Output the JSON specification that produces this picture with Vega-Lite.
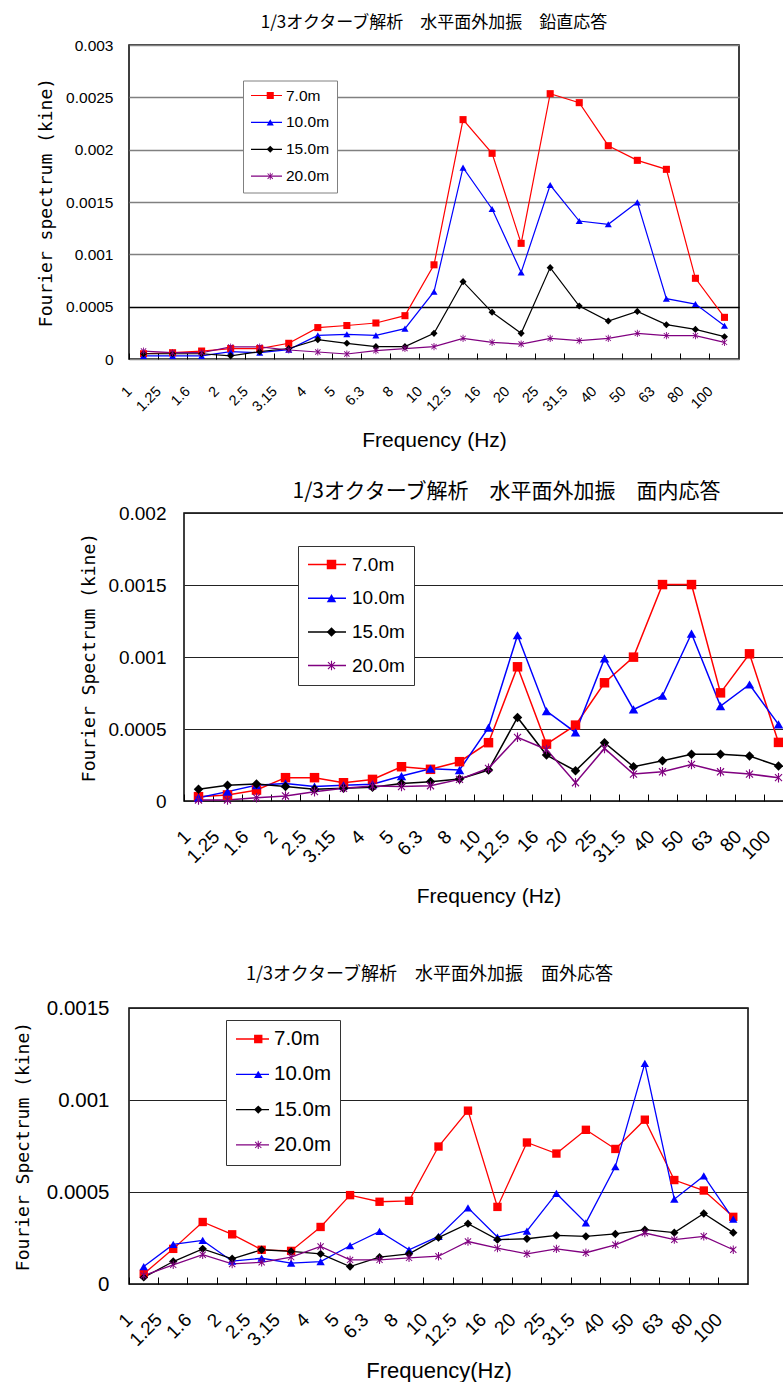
{
"$schema": "https://vega.github.io/schema/vega-lite/v6.json",
"background": "white",
"padding": {"left": 0, "top": 13, "right": 0, "bottom": 0},
"autosize": {"type": "pad"},
"spacing": 0,
"resolve": {"scale": {"stroke": "independent", "color": "independent", "shape": "independent", "fill": "independent"}, "legend": {"stroke": "independent", "color": "independent", "shape": "independent", "fill": "independent"}},
"config": {"view": {"stroke": "black", "strokeWidth": 1.5}, "font": "Liberation Sans"},
"datasets": {
"vert": [
{"f":"1","s":"7.0m","v":0.00005},{"f":"1.25","s":"7.0m","v":0.00006},{"f":"1.6","s":"7.0m","v":0.000076},{"f":"2","s":"7.0m","v":0.0001},{"f":"2.5","s":"7.0m","v":0.0001},{"f":"3.15","s":"7.0m","v":0.00015},{"f":"4","s":"7.0m","v":0.0003},{"f":"5","s":"7.0m","v":0.00032},{"f":"6.3","s":"7.0m","v":0.000344},{"f":"8","s":"7.0m","v":0.000414},{"f":"10","s":"7.0m","v":0.0009},{"f":"12.5","s":"7.0m","v":0.002287},{"f":"16","s":"7.0m","v":0.001965},{"f":"20","s":"7.0m","v":0.001105},{"f":"25","s":"7.0m","v":0.002535},{"f":"31.5","s":"7.0m","v":0.002449},{"f":"40","s":"7.0m","v":0.002038},{"f":"50","s":"7.0m","v":0.001898},{"f":"63","s":"7.0m","v":0.001812},{"f":"80","s":"7.0m","v":0.000771},{"f":"100","s":"7.0m","v":0.000398},
{"f":"1","s":"10.0m","v":0.00003},{"f":"1.25","s":"10.0m","v":0.00003},{"f":"1.6","s":"10.0m","v":0.00003},{"f":"2","s":"10.0m","v":0.00007},{"f":"2.5","s":"10.0m","v":0.00006},{"f":"3.15","s":"10.0m","v":0.00009},{"f":"4","s":"10.0m","v":0.000226},{"f":"5","s":"10.0m","v":0.000236},{"f":"6.3","s":"10.0m","v":0.000226},{"f":"8","s":"10.0m","v":0.00029},{"f":"10","s":"10.0m","v":0.000643},{"f":"12.5","s":"10.0m","v":0.001828},{"f":"16","s":"10.0m","v":0.001433},{"f":"20","s":"10.0m","v":0.000828},{"f":"25","s":"10.0m","v":0.001662},{"f":"31.5","s":"10.0m","v":0.001318},{"f":"40","s":"10.0m","v":0.001287},{"f":"50","s":"10.0m","v":0.001497},{"f":"63","s":"10.0m","v":0.000576},{"f":"80","s":"10.0m","v":0.000525},{"f":"100","s":"10.0m","v":0.000318},
{"f":"1","s":"15.0m","v":0.00005},{"f":"1.25","s":"15.0m","v":0.00005},{"f":"1.6","s":"15.0m","v":0.00005},{"f":"2","s":"15.0m","v":0.00003},{"f":"2.5","s":"15.0m","v":0.00007},{"f":"3.15","s":"15.0m","v":0.0001},{"f":"4","s":"15.0m","v":0.000185},{"f":"5","s":"15.0m","v":0.00015},{"f":"6.3","s":"15.0m","v":0.000118},{"f":"8","s":"15.0m","v":0.000118},{"f":"10","s":"15.0m","v":0.000245},{"f":"12.5","s":"15.0m","v":0.000739},{"f":"16","s":"15.0m","v":0.000446},{"f":"20","s":"15.0m","v":0.000245},{"f":"25","s":"15.0m","v":0.000873},{"f":"31.5","s":"15.0m","v":0.000506},{"f":"40","s":"15.0m","v":0.000363},{"f":"50","s":"15.0m","v":0.000455},{"f":"63","s":"15.0m","v":0.000328},{"f":"80","s":"15.0m","v":0.000283},{"f":"100","s":"15.0m","v":0.000213},
{"f":"1","s":"20.0m","v":0.000076},{"f":"1.25","s":"20.0m","v":0.00006},{"f":"1.6","s":"20.0m","v":0.00006},{"f":"2","s":"20.0m","v":0.000115},{"f":"2.5","s":"20.0m","v":0.000115},{"f":"3.15","s":"20.0m","v":0.000086},{"f":"4","s":"20.0m","v":0.000067},{"f":"5","s":"20.0m","v":0.000048},{"f":"6.3","s":"20.0m","v":0.00008},{"f":"8","s":"20.0m","v":0.0001},{"f":"10","s":"20.0m","v":0.000118},{"f":"12.5","s":"20.0m","v":0.000197},{"f":"16","s":"20.0m","v":0.000159},{"f":"20","s":"20.0m","v":0.000143},{"f":"25","s":"20.0m","v":0.000197},{"f":"31.5","s":"20.0m","v":0.000175},{"f":"40","s":"20.0m","v":0.000197},{"f":"50","s":"20.0m","v":0.000245},{"f":"63","s":"20.0m","v":0.000223},{"f":"80","s":"20.0m","v":0.000223},{"f":"100","s":"20.0m","v":0.000159}
],
"inplane": [
{"f":"1","s":"7.0m","v":0.00003},{"f":"1.25","s":"7.0m","v":0.000042},{"f":"1.6","s":"7.0m","v":0.000076},{"f":"2","s":"7.0m","v":0.000162},{"f":"2.5","s":"7.0m","v":0.000162},{"f":"3.15","s":"7.0m","v":0.000127},{"f":"4","s":"7.0m","v":0.00015},{"f":"5","s":"7.0m","v":0.000238},{"f":"6.3","s":"7.0m","v":0.00022},{"f":"8","s":"7.0m","v":0.000273},{"f":"10","s":"7.0m","v":0.000405},{"f":"12.5","s":"7.0m","v":0.000932},{"f":"16","s":"7.0m","v":0.000395},{"f":"20","s":"7.0m","v":0.000527},{"f":"25","s":"7.0m","v":0.000821},{"f":"31.5","s":"7.0m","v":0.000999},{"f":"40","s":"7.0m","v":0.001503},{"f":"50","s":"7.0m","v":0.001503},{"f":"63","s":"7.0m","v":0.000751},{"f":"80","s":"7.0m","v":0.001022},{"f":"100","s":"7.0m","v":0.000407},
{"f":"1","s":"10.0m","v":0.000023},{"f":"1.25","s":"10.0m","v":0.000065},{"f":"1.6","s":"10.0m","v":0.00011},{"f":"2","s":"10.0m","v":0.000122},{"f":"2.5","s":"10.0m","v":0.0001},{"f":"3.15","s":"10.0m","v":0.000109},{"f":"4","s":"10.0m","v":0.000116},{"f":"5","s":"10.0m","v":0.000173},{"f":"6.3","s":"10.0m","v":0.000224},{"f":"8","s":"10.0m","v":0.000215},{"f":"10","s":"10.0m","v":0.000509},{"f":"12.5","s":"10.0m","v":0.001151},{"f":"16","s":"10.0m","v":0.000624},{"f":"20","s":"10.0m","v":0.000476},{"f":"25","s":"10.0m","v":0.00099},{"f":"31.5","s":"10.0m","v":0.000636},{"f":"40","s":"10.0m","v":0.000731},{"f":"50","s":"10.0m","v":0.001163},{"f":"63","s":"10.0m","v":0.000659},{"f":"80","s":"10.0m","v":0.000809},{"f":"100","s":"10.0m","v":0.000532},
{"f":"1","s":"15.0m","v":0.000081},{"f":"1.25","s":"15.0m","v":0.00011},{"f":"1.6","s":"15.0m","v":0.000118},{"f":"2","s":"15.0m","v":0.0001},{"f":"2.5","s":"15.0m","v":0.000081},{"f":"3.15","s":"15.0m","v":0.000088},{"f":"4","s":"15.0m","v":0.000095},{"f":"5","s":"15.0m","v":0.000122},{"f":"6.3","s":"15.0m","v":0.000134},{"f":"8","s":"15.0m","v":0.000153},{"f":"10","s":"15.0m","v":0.000215},{"f":"12.5","s":"15.0m","v":0.00058},{"f":"16","s":"15.0m","v":0.000319},{"f":"20","s":"15.0m","v":0.00021},{"f":"25","s":"15.0m","v":0.000405},{"f":"31.5","s":"15.0m","v":0.000238},{"f":"40","s":"15.0m","v":0.00028},{"f":"50","s":"15.0m","v":0.000324},{"f":"63","s":"15.0m","v":0.000324},{"f":"80","s":"15.0m","v":0.000312},{"f":"100","s":"15.0m","v":0.000243},
{"f":"1","s":"20.0m","v":0.000007},{"f":"1.25","s":"20.0m","v":0.000007},{"f":"1.6","s":"20.0m","v":0.000023},{"f":"2","s":"20.0m","v":0.000035},{"f":"2.5","s":"20.0m","v":0.000065},{"f":"3.15","s":"20.0m","v":0.000088},{"f":"4","s":"20.0m","v":0.000104},{"f":"5","s":"20.0m","v":0.0001},{"f":"6.3","s":"20.0m","v":0.000106},{"f":"8","s":"20.0m","v":0.00015},{"f":"10","s":"20.0m","v":0.000227},{"f":"12.5","s":"20.0m","v":0.000442},{"f":"16","s":"20.0m","v":0.000358},{"f":"20","s":"20.0m","v":0.000127},{"f":"25","s":"20.0m","v":0.000365},{"f":"31.5","s":"20.0m","v":0.000187},{"f":"40","s":"20.0m","v":0.000203},{"f":"50","s":"20.0m","v":0.000254},{"f":"63","s":"20.0m","v":0.000203},{"f":"80","s":"20.0m","v":0.000187},{"f":"100","s":"20.0m","v":0.000162}
],
"outplane": [
{"f":"1","s":"7.0m","v":0.000055},{"f":"1.25","s":"7.0m","v":0.000191},{"f":"1.6","s":"7.0m","v":0.000337},{"f":"2","s":"7.0m","v":0.00027},{"f":"2.5","s":"7.0m","v":0.000186},{"f":"3.15","s":"7.0m","v":0.00018},{"f":"4","s":"7.0m","v":0.00031},{"f":"5","s":"7.0m","v":0.000483},{"f":"6.3","s":"7.0m","v":0.000447},{"f":"8","s":"7.0m","v":0.000452},{"f":"10","s":"7.0m","v":0.000747},{"f":"12.5","s":"7.0m","v":0.000942},{"f":"16","s":"7.0m","v":0.000419},{"f":"20","s":"7.0m","v":0.000769},{"f":"25","s":"7.0m","v":0.000709},{"f":"31.5","s":"7.0m","v":0.000838},{"f":"40","s":"7.0m","v":0.000734},{"f":"50","s":"7.0m","v":0.000893},{"f":"63","s":"7.0m","v":0.000565},{"f":"80","s":"7.0m","v":0.000508},{"f":"100","s":"7.0m","v":0.000365},
{"f":"1","s":"10.0m","v":0.000095},{"f":"1.25","s":"10.0m","v":0.000215},{"f":"1.6","s":"10.0m","v":0.000237},{"f":"2","s":"10.0m","v":0.000124},{"f":"2.5","s":"10.0m","v":0.00014},{"f":"3.15","s":"10.0m","v":0.000113},{"f":"4","s":"10.0m","v":0.000122},{"f":"5","s":"10.0m","v":0.000208},{"f":"6.3","s":"10.0m","v":0.000286},{"f":"8","s":"10.0m","v":0.000186},{"f":"10","s":"10.0m","v":0.000259},{"f":"12.5","s":"10.0m","v":0.000414},{"f":"16","s":"10.0m","v":0.000255},{"f":"20","s":"10.0m","v":0.000288},{"f":"25","s":"10.0m","v":0.000492},{"f":"31.5","s":"10.0m","v":0.000332},{"f":"40","s":"10.0m","v":0.000638},{"f":"50","s":"10.0m","v":0.001199},{"f":"63","s":"10.0m","v":0.000461},{"f":"80","s":"10.0m","v":0.000587},{"f":"100","s":"10.0m","v":0.000352},
{"f":"1","s":"15.0m","v":0.000036},{"f":"1.25","s":"15.0m","v":0.000122},{"f":"1.6","s":"15.0m","v":0.000191},{"f":"2","s":"15.0m","v":0.000137},{"f":"2.5","s":"15.0m","v":0.000186},{"f":"3.15","s":"15.0m","v":0.000177},{"f":"4","s":"15.0m","v":0.000164},{"f":"5","s":"15.0m","v":0.000095},{"f":"6.3","s":"15.0m","v":0.000146},{"f":"8","s":"15.0m","v":0.000164},{"f":"10","s":"15.0m","v":0.000252},{"f":"12.5","s":"15.0m","v":0.000328},{"f":"16","s":"15.0m","v":0.000241},{"f":"20","s":"15.0m","v":0.000246},{"f":"25","s":"15.0m","v":0.000264},{"f":"31.5","s":"15.0m","v":0.000259},{"f":"40","s":"15.0m","v":0.000272},{"f":"50","s":"15.0m","v":0.000295},{"f":"63","s":"15.0m","v":0.000279},{"f":"80","s":"15.0m","v":0.000383},{"f":"100","s":"15.0m","v":0.000279},
{"f":"1","s":"20.0m","v":0.000046},{"f":"1.25","s":"20.0m","v":0.000104},{"f":"1.6","s":"20.0m","v":0.000159},{"f":"2","s":"20.0m","v":0.000109},{"f":"2.5","s":"20.0m","v":0.000118},{"f":"3.15","s":"20.0m","v":0.000146},{"f":"4","s":"20.0m","v":0.000204},{"f":"5","s":"20.0m","v":0.000131},{"f":"6.3","s":"20.0m","v":0.000131},{"f":"8","s":"20.0m","v":0.000142},{"f":"10","s":"20.0m","v":0.000151},{"f":"12.5","s":"20.0m","v":0.000231},{"f":"16","s":"20.0m","v":0.000195},{"f":"20","s":"20.0m","v":0.000164},{"f":"25","s":"20.0m","v":0.000191},{"f":"31.5","s":"20.0m","v":0.00017},{"f":"40","s":"20.0m","v":0.000213},{"f":"50","s":"20.0m","v":0.000277},{"f":"63","s":"20.0m","v":0.000241},{"f":"80","s":"20.0m","v":0.000259},{"f":"100","s":"20.0m","v":0.000186}
]
},
"vconcat": [
{"spacing": 0, "hconcat": [
 {"width": 36, "height": 1, "view": {"stroke": null}, "data": {"values": []}, "mark": "point"},
 {"width": 610, "height": 314, "data": {"name": "vert"},
  "title": {"text": "1/3オクターブ解析　水平面外加振　鉛直応答", "font": "Noto Sans CJK JP", "fontSize": 17, "fontWeight": "normal", "color": "black", "anchor": "middle", "frame": "group", "baseline": "middle", "offset": -2},
  "encoding": {
   "x": {"field": "f", "type": "ordinal",
    "scale": {"type": "band", "domain": ["1","1.25","1.6","2","2.5","3.15","4","5","6.3","8","10","12.5","16","20","25","31.5","40","50","63","80","100"], "paddingInner": 0, "paddingOuter": 0},
    "axis": {"title": "Frequency (Hz)", "bandPosition": 0, "labelAngle": -45, "labelAlign": "right", "labelBaseline": "top", "labelPadding": 31, "labelOffset": -18.5, "labelFont": "Liberation Sans", "labelFontSize": 14.5, "labelColor": "black", "labelOverlap": false, "labelBound": false, "labelFlush": false, "ticks": true, "tickSize": -6, "tickColor": "black", "tickWidth": 1, "domain": false, "grid": false, "titleFont": "Liberation Sans", "titleFontSize": 21, "titleFontWeight": "normal", "titleColor": "black", "titleY": 81, "titleBaseline": "middle"}},
   "y": {"field": "v", "type": "quantitative", "scale": {"domain": [0, 0.003], "nice": false},
    "axis": {"title": "Fourier spectrum (kine)", "values": [0, 0.0005, 0.001, 0.0015, 0.002, 0.0025, 0.003], "labelExpr": "'' + datum.value", "ticks": false, "tickSize": 0, "domain": false, "grid": true, "gridColor": {"condition": {"test": "datum.value == 0.0005", "value": "black"}, "value": "#808080"}, "gridWidth": 1.5, "labelPadding": 16, "labelFont": "Liberation Sans", "labelFontSize": 15.5, "labelColor": "black", "labelFlush": false, "titleFont": "DejaVu Sans Mono", "titleFontSize": 18, "titleFontWeight": "normal", "titleColor": "black", "titleX": -83, "titleBaseline": "middle"}}
  },
  "layer": [
   {"mark": {"type": "line", "strokeWidth": 1.2},
    "encoding": {"order": {"value": null},
     "stroke": {"field": "s", "type": "nominal", "sort": ["7.0m","10.0m","15.0m","20.0m"], "scale": {"range": ["#FF0000","#0000FF","#000000","#800080"]},
      "legend": {"orient": "none", "legendX": 243, "legendY": 35.5, "title": null, "symbolType": "stroke", "symbolSize": 961, "symbolStrokeWidth": 1.2, "labelFont": "Liberation Sans", "labelFontSize": 15.5, "labelColor": "black", "labelOffset": 3, "padding": 7, "rowPadding": 9.9, "clipHeight": 16, "strokeColor": "#808080", "fillColor": "white", "cornerRadius": 0, "labelLimit": 0}}}},
   {"mark": {"type": "point", "filled": true, "opacity": 1, "size": 50, "strokeWidth": 0},
    "encoding": {
     "color": {"field": "s", "type": "nominal", "scale": {"domain": ["7.0m","10.0m","15.0m","20.0m"], "range": ["#FF0000","#0000FF","#000000","#800080"]},
      "legend": {"orient": "none", "legendX": 255.5, "legendY": 35.5, "title": null, "symbolSize": 50, "symbolStrokeWidth": 0, "labelFontSize": 15.5, "labelExpr": "''", "padding": 7, "rowPadding": 9.9, "clipHeight": 16}},
     "shape": {"field": "s", "type": "nominal", "scale": {"domain": ["7.0m","10.0m","15.0m","20.0m"], "range": ["square","triangle-up","diamond","M-0.12,-1L0.12,-1L0.12,1L-0.12,1Z M-0.66,-0.83L0.83,0.66L0.66,0.83L-0.83,-0.66Z M0.83,-0.66L-0.66,0.83L-0.83,0.66L0.66,-0.83Z"]},
      "legend": {"orient": "none", "legendX": 255.5, "legendY": 35.5, "title": null, "symbolSize": 50, "symbolStrokeWidth": 0, "labelFontSize": 15.5, "labelExpr": "''", "padding": 7, "rowPadding": 9.9, "clipHeight": 16}}}}
  ]}
]},
{"width": 1, "height": 29, "view": {"stroke": null}, "data": {"values": []}, "mark": "point"},
{"spacing": 0, "hconcat": [
 {"width": 79, "height": 1, "view": {"stroke": null}, "data": {"values": []}, "mark": "point"},
 {"width": 609, "height": 288, "data": {"name": "inplane"},
  "title": {"text": "1/3オクターブ解析　水平面外加振　面内応答", "font": "Noto Sans CJK JP", "fontSize": 21, "fontWeight": "normal", "color": "black", "anchor": "middle", "frame": "group", "baseline": "middle", "offset": -9, "dx": 18},
  "encoding": {
   "x": {"field": "f", "type": "ordinal",
    "scale": {"type": "band", "domain": ["1","1.25","1.6","2","2.5","3.15","4","5","6.3","8","10","12.5","16","20","25","31.5","40","50","63","80","100"], "paddingInner": 0, "paddingOuter": 0},
    "axis": {"title": "Frequency (Hz)", "bandPosition": 0, "labelAngle": -45, "labelAlign": "right", "labelBaseline": "top", "labelPadding": 33, "labelOffset": -17.5, "labelFont": "Liberation Sans", "labelFontSize": 19, "labelColor": "black", "labelOverlap": false, "labelBound": false, "labelFlush": false, "ticks": true, "tickSize": -7, "tickColor": "black", "tickWidth": 1, "domain": false, "grid": false, "titleFont": "Liberation Sans", "titleFontSize": 21, "titleFontWeight": "normal", "titleColor": "black", "titleY": 95, "titleBaseline": "middle"}},
   "y": {"field": "v", "type": "quantitative", "scale": {"domain": [0, 0.002], "nice": false},
    "axis": {"title": "Fourier Spectrum (kine)", "values": [0, 0.0005, 0.001, 0.0015, 0.002], "labelExpr": "'' + datum.value", "ticks": false, "tickSize": 0, "domain": false, "grid": true, "gridColor": "#222222", "gridWidth": 1, "labelPadding": 18, "labelFont": "Liberation Sans", "labelFontSize": 19, "labelColor": "black", "labelFlush": false, "titleFont": "DejaVu Sans Mono", "titleFontSize": 18, "titleFontWeight": "normal", "titleColor": "black", "titleX": -95, "titleBaseline": "middle"}}
  },
  "layer": [
   {"mark": {"type": "line", "strokeWidth": 1.5},
    "encoding": {"order": {"value": null},
     "stroke": {"field": "s", "type": "nominal", "sort": ["7.0m","10.0m","15.0m","20.0m"], "scale": {"range": ["#FF0000","#0000FF","#000000","#800080"]},
      "legend": {"orient": "none", "legendX": 298, "legendY": 33, "title": null, "symbolType": "stroke", "symbolSize": 1444, "symbolStrokeWidth": 1.5, "labelFont": "Liberation Sans", "labelFontSize": 19, "labelColor": "black", "labelOffset": 5, "padding": 9, "rowPadding": 13.7, "clipHeight": 19, "strokeColor": "#333333", "fillColor": "white", "cornerRadius": 0, "labelLimit": 0}}}},
   {"mark": {"type": "point", "filled": true, "opacity": 1, "size": 90, "strokeWidth": 0},
    "encoding": {
     "color": {"field": "s", "type": "nominal", "scale": {"domain": ["7.0m","10.0m","15.0m","20.0m"], "range": ["#FF0000","#0000FF","#000000","#800080"]},
      "legend": {"orient": "none", "legendX": 313, "legendY": 33, "title": null, "symbolSize": 90, "symbolStrokeWidth": 0, "labelFontSize": 19, "labelExpr": "''", "padding": 9, "rowPadding": 13.7, "clipHeight": 19}},
     "shape": {"field": "s", "type": "nominal", "scale": {"domain": ["7.0m","10.0m","15.0m","20.0m"], "range": ["square","triangle-up","diamond","M-0.12,-1L0.12,-1L0.12,1L-0.12,1Z M-0.66,-0.83L0.83,0.66L0.66,0.83L-0.83,-0.66Z M0.83,-0.66L-0.66,0.83L-0.83,0.66L0.66,-0.83Z"]},
      "legend": {"orient": "none", "legendX": 313, "legendY": 33, "title": null, "symbolSize": 90, "symbolStrokeWidth": 0, "labelFontSize": 19, "labelExpr": "''", "padding": 9, "rowPadding": 13.7, "clipHeight": 19}}}}
  ]}
]},
{"width": 1, "height": 58, "view": {"stroke": null}, "data": {"values": []}, "mark": "point"},
{"spacing": 0, "hconcat": [
 {"width": 13, "height": 1, "view": {"stroke": null}, "data": {"values": []}, "mark": "point"},
 {"width": 619, "height": 276, "data": {"name": "outplane"},
  "title": {"text": "1/3オクターブ解析　水平面外加振　面外応答", "font": "Noto Sans CJK JP", "fontSize": 18, "fontWeight": "normal", "color": "black", "anchor": "middle", "frame": "group", "baseline": "middle", "offset": 5, "dx": -9},
  "encoding": {
   "x": {"field": "f", "type": "ordinal",
    "scale": {"type": "band", "domain": ["1","1.25","1.6","2","2.5","3.15","4","5","6.3","8","10","12.5","16","20","25","31.5","40","50","63","80","100"], "paddingInner": 0, "paddingOuter": 0},
    "axis": {"title": "Frequency(Hz)", "bandPosition": 0, "labelAngle": -45, "labelAlign": "right", "labelBaseline": "top", "labelPadding": 33, "labelOffset": -20.5, "labelFont": "Liberation Sans", "labelFontSize": 19, "labelColor": "black", "labelOverlap": false, "labelBound": false, "labelFlush": false, "ticks": true, "tickSize": -7, "tickColor": "black", "tickWidth": 1, "domain": false, "grid": false, "titleFont": "Liberation Sans", "titleFontSize": 22, "titleFontWeight": "normal", "titleColor": "black", "titleY": 86, "titleBaseline": "middle"}},
   "y": {"field": "v", "type": "quantitative", "scale": {"domain": [0, 0.0015], "nice": false},
    "axis": {"title": "Fourier Spectrum (kine)", "values": [0, 0.0005, 0.001, 0.0015], "labelExpr": "'' + datum.value", "ticks": false, "tickSize": 0, "domain": false, "grid": true, "gridColor": "#222222", "gridWidth": 1, "labelPadding": 20, "labelFont": "Liberation Sans", "labelFontSize": 20.5, "labelColor": "black", "labelFlush": false, "titleFont": "DejaVu Sans Mono", "titleFontSize": 18, "titleFontWeight": "normal", "titleColor": "black", "titleX": -106, "titleBaseline": "middle"}}
  },
  "layer": [
   {"mark": {"type": "line", "strokeWidth": 1.3},
    "encoding": {"order": {"value": null},
     "stroke": {"field": "s", "type": "nominal", "sort": ["7.0m","10.0m","15.0m","20.0m"], "scale": {"range": ["#FF0000","#0000FF","#000000","#800080"]},
      "legend": {"orient": "none", "legendX": 226, "legendY": 12, "title": null, "symbolType": "stroke", "symbolSize": 1089, "symbolStrokeWidth": 1.3, "labelFont": "Liberation Sans", "labelFontSize": 20.5, "labelColor": "black", "labelOffset": 4, "padding": 9, "rowPadding": 14.3, "clipHeight": 20, "strokeColor": "#333333", "fillColor": "white", "cornerRadius": 0, "labelLimit": 0}}}},
   {"mark": {"type": "point", "filled": true, "opacity": 1, "size": 70, "strokeWidth": 0},
    "encoding": {
     "color": {"field": "s", "type": "nominal", "scale": {"domain": ["7.0m","10.0m","15.0m","20.0m"], "range": ["#FF0000","#0000FF","#000000","#800080"]},
      "legend": {"orient": "none", "legendX": 239, "legendY": 12, "title": null, "symbolSize": 70, "symbolStrokeWidth": 0, "labelFontSize": 20.5, "labelExpr": "''", "padding": 9, "rowPadding": 14.3, "clipHeight": 20}},
     "shape": {"field": "s", "type": "nominal", "scale": {"domain": ["7.0m","10.0m","15.0m","20.0m"], "range": ["square","triangle-up","diamond","M-0.12,-1L0.12,-1L0.12,1L-0.12,1Z M-0.66,-0.83L0.83,0.66L0.66,0.83L-0.83,-0.66Z M0.83,-0.66L-0.66,0.83L-0.83,0.66L0.66,-0.83Z"]},
      "legend": {"orient": "none", "legendX": 239, "legendY": 12, "title": null, "symbolSize": 70, "symbolStrokeWidth": 0, "labelFontSize": 20.5, "labelExpr": "''", "padding": 9, "rowPadding": 14.3, "clipHeight": 20}}}}
  ]}
]}
]
}
